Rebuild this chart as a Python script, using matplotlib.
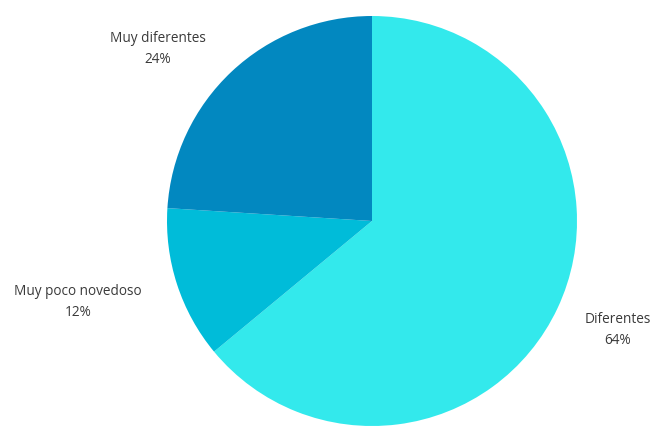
import matplotlib
matplotlib.use("Agg")
import matplotlib.pyplot as plt

plt.rcParams['font.family'] = ['Open Sans', 'DejaVu Sans']

categories = ["Diferentes", "Muy poco novedoso", "Muy diferentes"]
values = [64, 12, 24]
colors = ["#33E9EC", "#00BCD9", "#0288C0"]

W, H = 655, 430
fig = plt.figure(figsize=(W / 100, H / 100), dpi=100)
ax = fig.add_axes([0, 0, 1, 1])

ax.pie(values, colors=colors, startangle=90, counterclock=False,
       center=(372, H - 221), radius=205,
       wedgeprops=dict(linewidth=0))

ax.set_xlim(0, W)
ax.set_ylim(0, H)
ax.set_aspect('equal')
ax.axis('off')

label_pos = {
    "Diferentes": (618, 330),
    "Muy poco novedoso": (78, 302),
    "Muy diferentes": (158, 49),
}
for cat, val in zip(categories, values):
    x, y = label_pos[cat]
    ax.text(x, H - y, f"{cat}\n{val}%", ha='center', va='center',
            fontsize=9.8, color='#3a3a3a', linespacing=1.55)

fig.savefig("out.png", dpi=100)
